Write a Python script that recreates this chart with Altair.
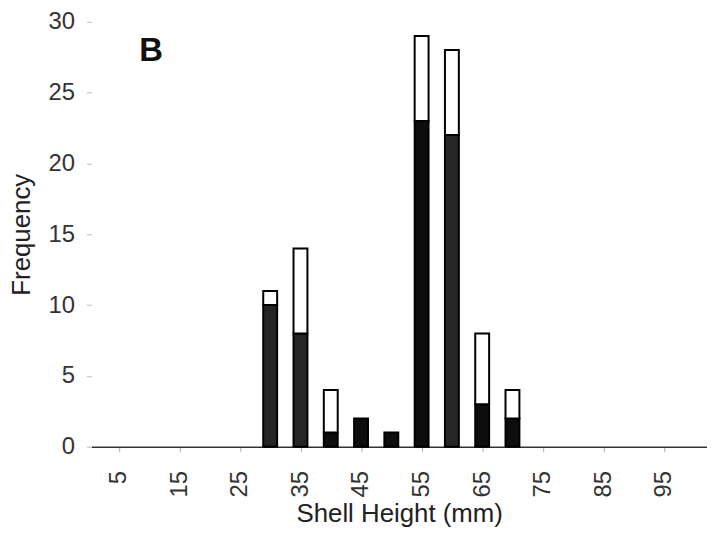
import altair as alt
import pandas as pd

bins = [30, 35, 40, 45, 50, 55, 60, 65, 70]
black = [0, 0, 1, 2, 1, 23, 0, 3, 2]
stippled = [10, 8, 0, 0, 0, 0, 22, 0, 0]
white = [1, 6, 3, 0, 0, 6, 6, 5, 2]
x_ticks = [5, 15, 25, 35, 45, 55, 65, 75, 85, 95]

rows = []
for b, k, s, w in zip(bins, black, stippled, white):
    rows.append({"bin": b, "seg": "black", "count": k, "ord": 0})
    rows.append({"bin": b, "seg": "stippled", "count": s, "ord": 1})
    rows.append({"bin": b, "seg": "white", "count": w, "ord": 2})
df = pd.DataFrame(rows)
df = df[df["count"] > 0]

bars = alt.Chart(df).mark_bar(size=14, stroke="black", strokeWidth=2).encode(
    x=alt.X("bin:Q", scale=alt.Scale(domain=[1.3, 101.3], nice=False, zero=False),
            axis=alt.Axis(values=x_ticks, labelAngle=270, labelAlign="right", labelBaseline="middle",
                          title="Shell Height (mm)", titleFontSize=26, titleFontWeight="normal",
                          titleColor="#222", titlePadding=4, labelFontSize=24, labelColor="#333",
                          labelPadding=19, tickSize=5, tickColor="#aaa", domainColor="#333",
                          domainWidth=1.5, grid=False, labelFont="Liberation Sans",
                          titleFont="Liberation Sans")),
    y=alt.Y("count:Q", stack="zero", scale=alt.Scale(domain=[0, 30], nice=False),
            axis=alt.Axis(values=[0, 5, 10, 15, 20, 25, 30], title="Frequency", titleFontSize=26,
                          titleFontWeight="normal", titleColor="#222", titlePadding=14,
                          labelFontSize=24, labelColor="#333", labelPadding=12, tickSize=5,
                          tickColor="#bbb", domain=False, grid=False, labelFont="Liberation Sans",
                          titleFont="Liberation Sans")),
    color=alt.Color("seg:N", scale=alt.Scale(domain=["black", "stippled", "white"],
                                            range=["#0d0d0d", "#262626", "#ffffff"]), legend=None),
    order=alt.Order("ord:Q"),
)

label = alt.Chart(pd.DataFrame({"t": ["B"]})).mark_text(
    fontSize=33, fontWeight="bold", font="Liberation Sans", color="#111", align="center", baseline="middle"
).encode(x=alt.value(60), y=alt.value(30), text="t:N")

chart = alt.layer(bars, label).properties(
    width=620, height=428,
    autosize=alt.AutoSizeParams(type="none"),
    padding={"left": 84, "top": 12, "right": 0, "bottom": 85},
).configure_view(stroke=None)

chart.save("out.html", embed_options={"renderer": "svg", "actions": False})
